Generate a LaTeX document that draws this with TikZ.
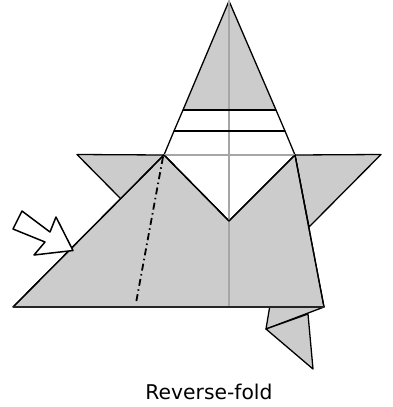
\documentclass[tikz,border=0pt]{standalone}
\usepackage{fontspec}
\setmainfont{DejaVu Sans}
\usepackage{xcolor}
\usetikzlibrary{positioning}
\definecolor{papergray}{HTML}{CCCCCC}
\definecolor{creasegray}{HTML}{A6A6A6}
\begin{document}
\begin{tikzpicture}[
    x=1bp, y=-1bp,
    flap/.style={draw=black, fill=papergray, line width=1.3bp, line join=round},
    band/.style={draw=black, fill=white, line width=1.3bp, line join=round},
    crease/.style={draw=creasegray, line width=1.2bp},
    edge/.style={draw=black, line width=1.3bp},
    mountain/.style={draw=black, line width=1.8bp, dash pattern=on 7bp off 3.5bp on 1.5bp off 3.5bp},
    caption/.style={font=\fontsize{20.3bp}{24bp}\selectfont, text=black, inner sep=0pt}
]
\useasboundingbox (0,0) rectangle (393,407);
% outline points
\coordinate (top) at (229,1);
\coordinate (shl) at (164,155);
\coordinate (shr) at (295,155);
\coordinate (vee) at (229,221);
\coordinate (tipl) at (13,307);
\coordinate (cnr) at (324,307);
% lower flaps
\draw[flap] (270,305) -- (266,329) -- (324,307) -- cycle;
\draw[flap] (308,314) -- (313,369) -- (266,329) -- cycle;
% wings
\draw[flap] (shl) -- (77,154.5) -- (121,199) -- cycle;
\draw[flap] (shr) -- (381,154.5) -- (309,227) -- cycle;
% head
\draw[band] (shl) -- (174,131) -- (285,131) -- (shr) -- (vee) -- cycle;
\draw[band] (174,131) -- (183,110) -- (276,110) -- (285,131);
\draw[flap] (top) -- (183,110) -- (276,110) -- cycle;
% body
\draw[flap] (tipl) -- (shl) -- (vee) -- (shr) -- (cnr) -- cycle;
% creases
\draw[crease] (229,1) -- (229,307);
\draw[crease] (shl) -- (shr);
\draw[edge, line width=1.6bp] (174,131) -- (285,131);
\draw[edge] (183,110) -- (276,110);
\draw[edge] (shl) -- (vee) -- (shr);
\draw[edge] (tipl) -- (shl);
\draw[edge] (shr) -- (cnr);
\draw[edge, draw=black!85] (tipl) -- (cnr);
\draw[mountain] (163,157) -- (136,303);
% arrow
\draw[band, line width=1.5bp] (73,250.5) -- (56,217) -- (50,232) -- (22,211) -- (13,229) -- (45,242) -- (34,255) -- cycle;
\node[caption] (label) at (209,392) {Reverse-fold};
\end{tikzpicture}
\end{document}
